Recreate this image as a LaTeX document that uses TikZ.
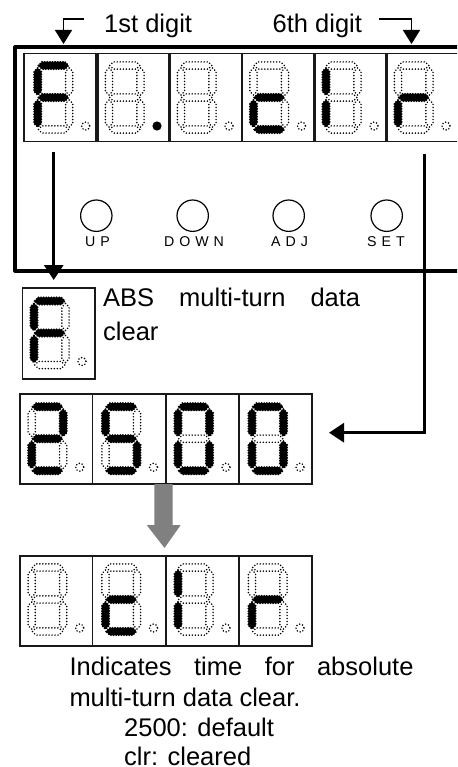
\documentclass[tikz,border=0pt]{standalone}
\usepackage{fontspec}
\setmainfont{Liberation Sans}
\newfontfamily\spacedfont[LetterSpace=35]{Liberation Sans}
\usetikzlibrary{arrows.meta}
\tikzset{
  frameline/.style={line width=3.2pt,line join=round,line cap=round},
  conn/.style={line width=3pt,line join=miter},
  tipconn/.style={conn,-{Triangle[length=15pt,width=19pt]}},
  smalltip/.style={conn,line width=1.6pt,-{Triangle[length=14pt,width=17pt]}},
  dbox/.style={draw=black!90,line width=1.5pt,fill=white,inner sep=0pt,anchor=north west},
  btn/.style={draw,circle,line width=1.2pt,minimum size=31.4pt,inner sep=0pt},
  biglabel/.style={anchor=base west,inner sep=0pt,font=\fontsize{25.5}{30}\selectfont},
  btnlabel/.style={anchor=base,inner sep=0pt,font=\spacedfont\fontsize{14.2}{16}\selectfont},
  dimseg/.style={draw=black,line width=1.7pt,line cap=round,dash pattern=on 0pt off 3pt},
  litseg/.style={fill=black,draw=black,line width=2.1pt,line cap=round,dash pattern=on 0pt off 2.6pt}
}
% horizontal segment centred at (#1,#2), style #3
\newcommand{\hseg}[3]{\draw[#3] (#1-15,#2) -- (#1-11.5,#2-3.6) -- (#1+11.5,#2-3.6) -- (#1+15,#2) -- (#1+11.5,#2+3.6) -- (#1-11.5,#2+3.6) -- cycle;}
% vertical segment centred at (#1,#2), style #3
\newcommand{\vseg}[3]{\draw[#3] (#1,#2-13.5) -- (#1+3.6,#2-10) -- (#1+3.6,#2+10) -- (#1,#2+13.5) -- (#1-3.6,#2+10) -- (#1-3.6,#2-10) -- cycle;}
% \sdigit{L}{Y}{a}{b}{c}{d}{e}{f}{g}: each state is dimseg or litseg
\newcommand{\sdigit}[9]{%
  \hseg{#1+15.75}{#2}{#3}
  \vseg{#1+31.5}{#2+16}{#4}
  \vseg{#1+31.5}{#2+48}{#5}
  \hseg{#1+15.75}{#2+64}{#6}
  \vseg{#1}{#2+48}{#7}
  \vseg{#1}{#2+16}{#8}
  \hseg{#1+15.75}{#2+32}{#9}
}
\newcommand{\dimdp}[2]{\draw[dimseg] (#1+48,#2+60.5) circle[radius=4];}
\newcommand{\litdp}[2]{\fill (#1+48,#2+60.5) circle[radius=4.6];}
\def\D{dimseg}
\def\L{litseg}
\begin{document}
\begin{tikzpicture}[x=1pt,y=-1pt]
\useasboundingbox (0,0) rectangle (457,767);
\clip (0,0) rectangle (457,767);
% frame
\draw[frameline] (470,47) -- (15,47) -- (15,271) -- (470,271);
% top display boxes
\node[dbox,minimum width=72pt,minimum height=88pt] (t1) at (23,53) {};
\node[dbox,minimum width=71pt,minimum height=88pt] (t2) at (97,53) {};
\node[dbox,minimum width=71pt,minimum height=88pt] (t3) at (169.5,53) {};
\node[dbox,minimum width=71pt,minimum height=88pt] (t4) at (241.5,53) {};
\node[dbox,minimum width=71pt,minimum height=88pt] (t5) at (314,53) {};
\node[dbox,minimum width=90pt,minimum height=88pt] (t6) at (386,53) {};
\sdigit{37.7}{65.5}{\L}{\D}{\D}{\D}{\L}{\L}{\L}\dimdp{37.7}{65.5}
\sdigit{109}{65.5}{\D}{\D}{\D}{\D}{\D}{\D}{\D}\litdp{109}{65.5}
\sdigit{181}{65.5}{\D}{\D}{\D}{\D}{\D}{\D}{\D}\dimdp{181}{65.5}
\sdigit{253.5}{65.5}{\D}{\D}{\D}{\L}{\L}{\D}{\L}\dimdp{253.5}{65.5}
\sdigit{326}{65.5}{\D}{\D}{\D}{\D}{\L}{\L}{\D}\dimdp{326}{65.5}
\sdigit{398}{65.5}{\D}{\D}{\D}{\D}{\L}{\D}{\L}\dimdp{398}{65.5}
% digit labels
\node[biglabel] (first) at (104,33) {1st digit};
\node[biglabel] (sixth) at (272.5,33) {6th digit};
\coordinate (firstfrom) at (84,19);
\coordinate (firstto) at (63.5,44);
\coordinate (sixthfrom) at (379,19);
\coordinate (sixthto) at (411.5,44);
\draw[smalltip] (firstfrom) -| (firstto);
\draw[smalltip] (sixthfrom) -| (sixthto);
% buttons
\node[btn] (up) at (96.3,215.7) {};
\node[btn] (down) at (192.7,215.7) {};
\node[btn] (adj) at (288.7,215.7) {};
\node[btn] (set) at (386.7,215.7) {};
\node[btnlabel] (uplab) at (97.5,246.7) {UP};
\node[btnlabel] (downlab) at (194,246.7) {DOWN};
\node[btnlabel] (adjlab) at (289.5,246.7) {ADJ};
\node[btnlabel] (setlab) at (386,246.7) {SET};
% single digit box
\node[dbox,minimum width=72.5pt,minimum height=91pt] (single) at (21.7,287) {};
\sdigit{34}{301}{\L}{\D}{\D}{\D}{\L}{\L}{\L}\dimdp{34}{301}
\node[biglabel] (abs) at (103,306.7) {\hbox to 257pt{ABS\hfill multi-turn\hfill data}};
\node[biglabel] (clear) at (103,340.7) {clear};
% vertical arrow
\coordinate (leftfrom) at (53.7,152);
\coordinate (leftto) at (55,280);
\draw[tipconn] (leftfrom) -- (leftfrom |- leftto);
% second row
\node[dbox,minimum width=72.5pt,minimum height=90pt] (r1) at (19,393) {};
\node[dbox,minimum width=73pt,minimum height=90pt] (r2) at (91.7,393) {};
\node[dbox,minimum width=73pt,minimum height=90pt] (r3) at (165,393) {};
\node[dbox,minimum width=73pt,minimum height=90pt] (r4) at (238,393) {};
\sdigit{31.7}{406.7}{\L}{\L}{\D}{\L}{\L}{\D}{\L}\dimdp{31.7}{406.7}
\sdigit{105.5}{406.7}{\L}{\D}{\L}{\L}{\D}{\L}{\L}\dimdp{105.5}{406.7}
\sdigit{178}{406.7}{\L}{\L}{\L}{\L}{\L}{\L}{\D}\dimdp{178}{406.7}
\sdigit{252}{406.7}{\L}{\L}{\L}{\L}{\L}{\L}{\D}\dimdp{252}{406.7}
% right connector
\coordinate (rightfrom) at (424,154);
\coordinate (rightto) at (329,432.7);
\draw[tipconn] (rightfrom) |- (rightto);
% grey arrow
\fill[black!50] (154.3,484) -- (172.7,484) -- (172.7,525) -- (180.7,525) -- (164.5,548) -- (146.7,525) -- (154.3,525) -- cycle;
% third row
\node[dbox,minimum width=72.5pt,minimum height=90pt] (s1) at (19,555) {};
\node[dbox,minimum width=73pt,minimum height=90pt] (s2) at (91.7,555) {};
\node[dbox,minimum width=73pt,minimum height=90pt] (s3) at (165,555) {};
\node[dbox,minimum width=73pt,minimum height=90pt] (s4) at (238,555) {};
\sdigit{31.7}{567.5}{\D}{\D}{\D}{\D}{\D}{\D}{\D}\dimdp{31.7}{567.5}
\sdigit{105.5}{567.5}{\D}{\D}{\D}{\L}{\L}{\D}{\L}\dimdp{105.5}{567.5}
\sdigit{178}{567.5}{\D}{\D}{\D}{\D}{\L}{\L}{\D}\dimdp{178}{567.5}
\sdigit{252}{567.5}{\D}{\D}{\D}{\D}{\L}{\D}{\L}\dimdp{252}{567.5}
% caption
\node[biglabel] (cap1) at (69.3,675) {\hbox to 344pt{Indicates\hfill time\hfill for\hfill absolute}};
\node[biglabel] (cap2) at (69.3,706.7) {multi-turn data clear.};
\node[biglabel] (cap3) at (124,736.7) {2500: default};
\node[biglabel] (cap4) at (124,765) {clr: cleared};
\end{tikzpicture}
\end{document}
